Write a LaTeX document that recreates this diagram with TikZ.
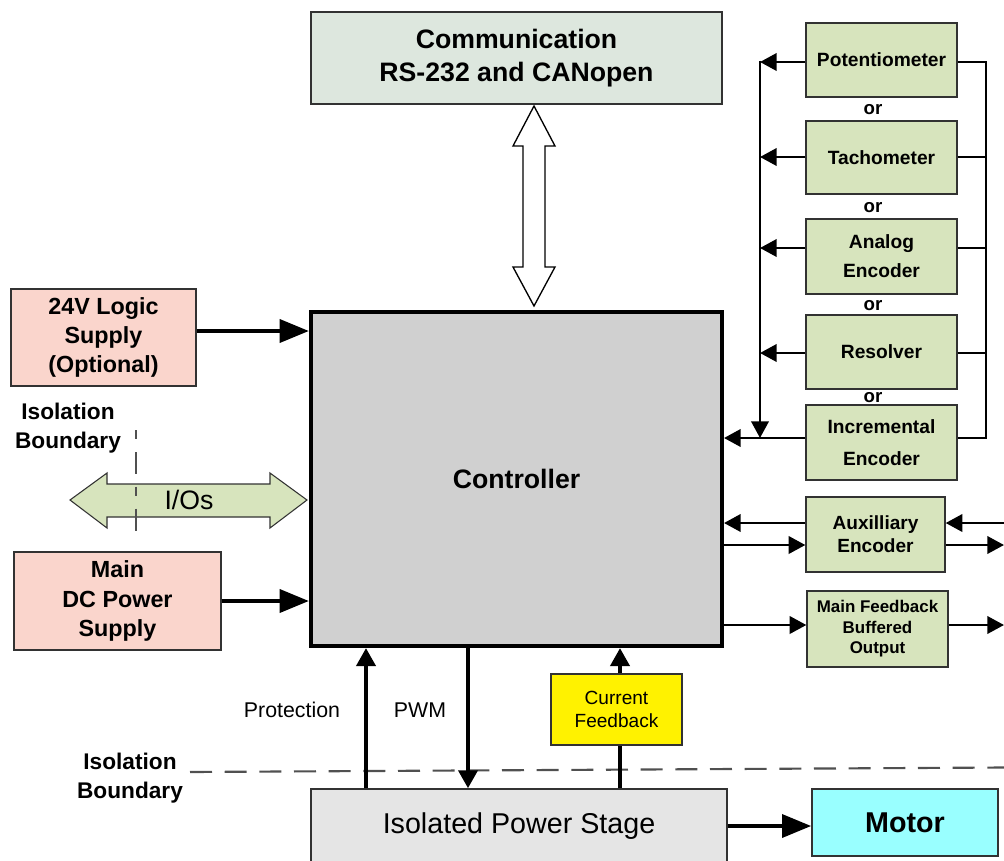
\documentclass[tikz,border=0pt]{standalone}
\usepackage{fontspec}
\setmainfont{Liberation Sans}
\usetikzlibrary{arrows.meta}
\definecolor{commfill}{RGB}{221,231,222}
\definecolor{ctrlfill}{RGB}{208,208,208}
\definecolor{pinkfill}{RGB}{250,213,204}
\definecolor{greenfill}{RGB}{215,228,189}
\definecolor{psfill}{RGB}{229,229,229}
\definecolor{motorfill}{RGB}{153,255,255}
\definecolor{dashgray}{RGB}{80,80,80}
\definecolor{edgegray}{RGB}{50,50,50}
\begin{document}
\begin{tikzpicture}[x=0.75pt,y=-0.75pt,
  box/.style={draw=edgegray, line width=1pt, inner sep=0pt, align=center},
  greenbox/.style={box, fill=greenfill, minimum width=113.25pt, font=\bfseries\fontsize{14.4}{21.75}\selectfont},
  pinkbox/.style={box, fill=pinkfill, font=\bfseries\fontsize{17.5}{21.75}\selectfont},
  bigarrow/.style={line width=3.5pt, -{Triangle[length=22pt,width=17pt]}},
  barrow/.style={line width=3.5pt, -{Triangle[length=13.5pt,width=14pt]}},
  bline/.style={line width=3.5pt},
  sarrow/.style={line width=2pt, -{Triangle[length=12.5pt,width=13pt]}},
  sline/.style={line width=2pt},
  isodash/.style={draw=dashgray, line width=1.6pt, dash pattern=on 16.5pt off 9.5pt},
  boldlbl/.style={align=center, font=\bfseries\fontsize{17}{21.75}\selectfont},
  orlbl/.style={font=\bfseries\fontsize{14}{16}\selectfont, inner sep=0pt},
  plainlbl/.style={font=\fontsize{16}{19}\selectfont}
]
\useasboundingbox (0,0) rectangle (1004,861);
\clip (0,0) rectangle (1004,861);

% main boxes
\node[box, fill=commfill, minimum width=308.25pt, minimum height=69pt,
      font=\bfseries\fontsize{20}{24.75}\selectfont] (comm) at (516.5,58)
      {Communication\\RS-232 and CANopen};
\node[box, draw=black, line width=3pt, fill=ctrlfill, minimum width=308.25pt, minimum height=250.5pt,
      font=\bfseries\fontsize{20}{24}\selectfont] (ctrl) at (516.5,479) {Controller};
\node[pinkbox, minimum width=138.75pt, minimum height=72.75pt] (logic) at (103.5,337.5)
      {24V Logic\\Supply\\(Optional)};
\node[pinkbox, minimum width=155.25pt, minimum height=73.5pt, font=\bfseries\fontsize{17.5}{22}\selectfont] (mains) at (117.5,601)
      {Main\\DC Power\\Supply};
\node[box, fill=psfill, minimum width=312pt, minimum height=55.5pt,
      font=\fontsize{21.5}{25}\selectfont] (power) at (519,826) {Isolated Power Stage};
\node[box, fill=motorfill, minimum width=139.5pt, minimum height=50.25pt,
      font=\bfseries\fontsize{21.5}{25}\selectfont] (motor) at (905,822.5) {Motor};
\node[box, fill=yellow, minimum width=98.25pt, minimum height=53.25pt,
      font=\fontsize{14.3}{17.25}\selectfont] (cf) at (616.5,709.5) {Current\\Feedback};

% sensor boxes
\node[greenbox, minimum height=55.5pt] (pot) at (881.5,60) {Potentiometer};
\node[greenbox, minimum height=54.75pt] (tach) at (881.5,157.5) {Tachometer};
\node[greenbox, minimum height=56.25pt] (ana) at (881.5,256.5) {Analog\\Encoder};
\node[greenbox, minimum height=55.5pt] (res) at (881.5,352) {Resolver};
\node[greenbox, minimum height=56.25pt, font=\bfseries\fontsize{14.4}{24}\selectfont] (inc) at (881.5,442.5) {Incremental\\Encoder};
\node[greenbox, minimum width=104.25pt, minimum height=56.25pt, font=\bfseries\fontsize{14.3}{17.25}\selectfont] (aux) at (875.5,534.5) {Auxilliary\\Encoder};
\node[greenbox, minimum width=105.75pt, minimum height=57pt, font=\bfseries\fontsize{12.7}{15.4}\selectfont] (mfb) at (877.5,629) {Main Feedback\\Buffered\\Output};

\node[orlbl] (or1) at (873,110) {or};
\node[orlbl] (or2) at (873,208) {or};
\node[orlbl] (or3) at (873,306) {or};
\node[orlbl] (or4) at (873,398) {or};

% labels
\node[boldlbl] (iso1) at (68,428) {Isolation\\Boundary};
\node[boldlbl] (iso2) at (130,778) {Isolation\\Boundary};
\node[plainlbl] (prot) at (292,710) {Protection};
\node[plainlbl] (pwm) at (420,710) {PWM};

% communication double arrow
\draw[line width=1pt, fill=white] (534,106) -- (555,146) -- (545,146) -- (545,267) -- (555,267)
  -- (534,306) -- (513,267) -- (523,267) -- (523,146) -- (513,146) -- cycle;

% I/Os double arrow
\draw[draw=edgegray, line width=0.8pt, fill=greenfill] (70,500) -- (107,473) -- (107,484) -- (270,484) -- (270,473)
  -- (307,500) -- (270,528) -- (270,517) -- (107,517) -- (107,528) -- cycle;
\node[font=\fontsize{20}{24}\selectfont] (ios) at (189,500) {I/Os};

% isolation dashed lines
\draw[isodash, dash pattern=on 7pt off 9.5pt on 16.5pt off 9.5pt] (136,430) -- (136,543);
\draw[isodash] (190,772) -- (1004,767.5);

% supplies to controller
\coordinate (yl) at (0,331);
\draw[bigarrow] (logic.east |- yl) -- (ctrl.west |- yl);
\draw[bigarrow] (mains.east) -- (ctrl.west |- mains.east);

% bus coordinates
\coordinate (bL1) at (760,62);
\coordinate (bL2) at (760,157);
\coordinate (bL3) at (760,248);
\coordinate (bL4) at (760,353);
\coordinate (bL5) at (760,438);
\coordinate (bR1) at (986,62);
\coordinate (bR2) at (986,157);
\coordinate (bR3) at (986,248);
\coordinate (bR4) at (986,353);
\coordinate (bR5) at (986,438);

\draw[sarrow] (pot.west |- bL1) -- (bL1);
\draw[sarrow] (tach.west |- bL2) -- (bL2);
\draw[sarrow] (ana.west |- bL3) -- (bL3);
\draw[sarrow] (res.west |- bL4) -- (bL4);
\draw[sarrow] ([yshift=1pt]bL1) -- (bL5);
\draw[sarrow] (inc.west |- bL5) -- (ctrl.east |- bL5);

\draw[sline] (pot.east |- bR1) -- (bR1) -- (bR5) -- (inc.east |- bR5);
\draw[sline] (tach.east |- bR2) -- (bR2);
\draw[sline] (ana.east |- bR3) -- (bR3);
\draw[sline] (res.east |- bR4) -- (bR4);

% auxiliary encoder and main feedback
\coordinate (ya1) at (0,523);
\coordinate (ya2) at (0,545);
\coordinate (ym) at (0,625);
\coordinate (edgeR) at (1004,0);
\draw[sarrow] (aux.west |- ya1) -- (ctrl.east |- ya1);
\draw[sarrow] (ctrl.east |- ya2) -- (aux.west |- ya2);
\draw[sarrow] (edgeR |- ya1) -- (aux.east |- ya1);
\draw[sarrow] (aux.east |- ya2) -- (edgeR |- ya2);
\draw[sarrow] (ctrl.east |- ym) -- (mfb.west |- ym);
\draw[sarrow] (mfb.east |- ym) -- (edgeR |- ym);

% bottom connections
\coordinate (xp) at (366,0);
\coordinate (xw) at (468,0);
\coordinate (xc) at (620,0);
\draw[barrow] (power.north -| xp) -- (ctrl.south -| xp);
\draw[barrow] (ctrl.south -| xw) -- (power.north -| xw);
\draw[bline] (power.north -| xc) -- (cf.south -| xc);
\draw[barrow] (cf.north -| xc) -- (ctrl.south -| xc);

% power stage to motor
\coordinate (ymo) at (0,826);
\draw[bigarrow] (power.east |- ymo) -- (motor.west |- ymo);
\end{tikzpicture}
\end{document}
